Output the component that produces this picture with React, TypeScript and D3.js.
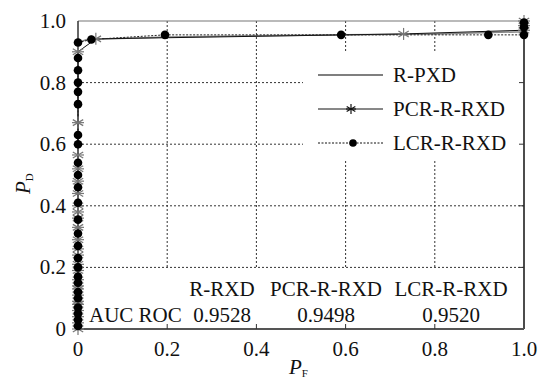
import * as d3 from "d3";

// detection-rate (P_D) vs false-alarm rate (P_F)
const rpxdPF = [0, 0, 0.02, 0.2, 0.4, 0.6, 0.8, 1.0, 1.0];
const rpxdPD = [0, 0.93, 0.94, 0.948, 0.952, 0.955, 0.958, 0.965, 1.0];

const pcrPF = [0, 0, 0, 0, 0, 0, 0, 0, 0, 0, 0, 0, 0, 0, 0, 0, 0, 0, 0, 0, 0, 0, 0, 0, 0, 0.04, 0.73, 1.0, 1.0, 1.0];
const pcrPD = [0, 0.02, 0.04, 0.06, 0.08, 0.09, 0.11, 0.13, 0.14, 0.16, 0.19, 0.21, 0.24, 0.26, 0.29, 0.33, 0.36, 0.38, 0.4, 0.44, 0.48, 0.52, 0.565, 0.67, 0.9, 0.942, 0.958, 0.97, 0.985, 1.0];

const lcrPF = [0, 0, 0, 0, 0, 0, 0, 0, 0, 0, 0, 0, 0, 0, 0, 0, 0, 0, 0, 0, 0, 0, 0, 0, 0, 0.03, 0.195, 0.59, 0.92, 1.0, 1.0, 1.0];
const lcrPD = [0.01, 0.03, 0.05, 0.07, 0.1, 0.12, 0.15, 0.17, 0.2, 0.23, 0.27, 0.31, 0.355, 0.41, 0.46, 0.5, 0.54, 0.6, 0.63, 0.73, 0.77, 0.8, 0.84, 0.88, 0.93, 0.94, 0.955, 0.955, 0.955, 0.955, 0.98, 0.995];

const ticks = [0, 0.2, 0.4, 0.6, 0.8, 1.0];
const tickLabels = ["0", "0.2", "0.4", "0.6", "0.8", "1.0"];

const legendNames = ["R-PXD", "PCR-R-RXD", "LCR-R-RXD"];
const aucNames = ["R-RXD", "PCR-R-RXD", "LCR-R-RXD"];
const aucValues = ["0.9528", "0.9498", "0.9520"];

const W = 540, H = 384;
const L = 78, R = 524, T = 21, B = 329;
const FONT = "Liberation Serif, DejaVu Serif, Times New Roman, serif";

function Star({ x, y, s = 5, color = "#666" }) {
  const arms = [0, 60, 120].map((a) => {
    const r = (a * Math.PI) / 180;
    return [x + s * Math.sin(r), y - s * Math.cos(r), x - s * Math.sin(r), y + s * Math.cos(r)];
  });
  return (
    <g stroke={color} strokeWidth={1.2}>
      {arms.map((a, i) => <line key={i} x1={a[0]} y1={a[1]} x2={a[2]} y2={a[3]} />)}
      <line x1={x - s} y1={y} x2={x + s} y2={y} />
    </g>
  );
}

export default function App() {
  const x = d3.scaleLinear([0, 1], [L, R]);
  const y = d3.scaleLinear([0, 1], [B, T]);

  const path = (pf: number[], pd: number[]) =>
    d3.line<number>((_, i) => x(pf[i]), (_, i) => y(pd[i]))(pf) as string;

  const aucCols = [222, 326, 451];

  return (
    <svg width={W} height={H} style={{ position: "absolute", left: 0, top: 0, background: "#fff", fontFamily: FONT }}>
      <rect x={0} y={0} width={W} height={H} fill="#fff" />
      {/* grid */}
      <g stroke="#333" strokeWidth={1} strokeDasharray="2,2">
        {ticks.slice(1, 5).map((t) => (
          <line key={"v" + t} x1={x(t)} x2={x(t)} y1={T} y2={B} />
        ))}
        {ticks.slice(1, 5).map((t) => (
          <line key={"h" + t} x1={L} x2={R} y1={y(t)} y2={y(t)} />
        ))}
      </g>
      {/* boxes for legend and AUC table */}
      <rect x={303} y={53} width={R - 303} height={107} fill="#fff" />
      <rect x={L + 1} y={y(0.2) + 1} width={R - L - 1} height={B - y(0.2) - 1} fill="#fff" />

      {/* axes frame */}
      <line x1={L} x2={R} y1={T} y2={T} stroke="#777" strokeWidth={1.2} />
      <line x1={R} x2={R} y1={T} y2={B} stroke="#111" strokeWidth={1.5} />
      <line x1={L} x2={L} y1={T} y2={B} stroke="#333" strokeWidth={1.5} />
      <line x1={L} x2={R} y1={B} y2={B} stroke="#555" strokeWidth={2} />
      <g stroke="#333" strokeWidth={1}>
        {ticks.slice(1, 5).map((t) => (
          <g key={t}>
            <line x1={x(t)} x2={x(t)} y1={B} y2={B - 5} />
            <line x1={R} x2={R - 5} y1={y(t)} y2={y(t)} />
            <line x1={L} x2={L + 5} y1={y(t)} y2={y(t)} />
          </g>
        ))}
      </g>

      {/* tick labels */}
      <g fontSize={21} fill="#111">
        {ticks.map((t, i) => (
          <text key={"x" + t} x={x(t)} y={B + 27} textAnchor="middle">{tickLabels[i]}</text>
        ))}
        {ticks.map((t, i) => (
          <text key={"y" + t} x={L - 12} y={y(t) + 7} textAnchor="end">{tickLabels[i]}</text>
        ))}
      </g>

      {/* axis titles */}
      <text x={289} y={374} fontSize={21} fill="#111">
        <tspan fontStyle="italic">P</tspan>
        <tspan fontSize={11} dy={3}>F</tspan>
      </text>
      <text transform="translate(30,194) rotate(-90)" fontSize={21} fill="#111">
        <tspan fontStyle="italic">P</tspan>
        <tspan fontSize={11} dy={3}>D</tspan>
      </text>

      {/* AUC table */}
      <g fontSize={21} fill="#111">
        <text x={89} y={322}>AUC ROC</text>
        {aucNames.map((n, i) => (
          <text key={n} x={aucCols[i]} y={296} textAnchor="middle">{n}</text>
        ))}
        {aucValues.map((v, i) => (
          <text key={v} x={aucCols[i]} y={322} textAnchor="middle">{v}</text>
        ))}
      </g>

      {/* curves */}
      <path d={path(rpxdPF, rpxdPD)} fill="none" stroke="#888" strokeWidth={1.5} />
      <path d={path(pcrPF, pcrPD)} fill="none" stroke="#111" strokeWidth={1} />
      <path d={path(lcrPF, lcrPD)} fill="none" stroke="#222" strokeWidth={1} strokeDasharray="2,1.5" />
      {pcrPF.map((pf, i) => (
        <Star key={"s" + i} x={x(pf)} y={y(pcrPD[i])} s={6} color="#777" />
      ))}
      {lcrPF.map((pf, i) => (
        <circle key={"c" + i} cx={x(pf)} cy={y(lcrPD[i])} r={4.3} fill="#000" />
      ))}

      {/* legend */}
      <g fontSize={21} fill="#111">
        {legendNames.map((n, i) => {
          const ly = 75 + i * 34;
          return (
            <g key={n}>
              <line x1={318} x2={383} y1={ly} y2={ly}
                stroke={i === 0 ? "#555" : "#111"} strokeWidth={i === 0 ? 1.5 : 1}
                strokeDasharray={i === 2 ? "2,1.5" : undefined} />
              {i === 1 && <Star x={351} y={ly} s={5} color="#111" />}
              {i === 2 && <circle cx={353} cy={ly} r={3.8} fill="#000" />}
              <text x={393} y={ly + 7}>{n}</text>
            </g>
          );
        })}
      </g>
    </svg>
  );
}
